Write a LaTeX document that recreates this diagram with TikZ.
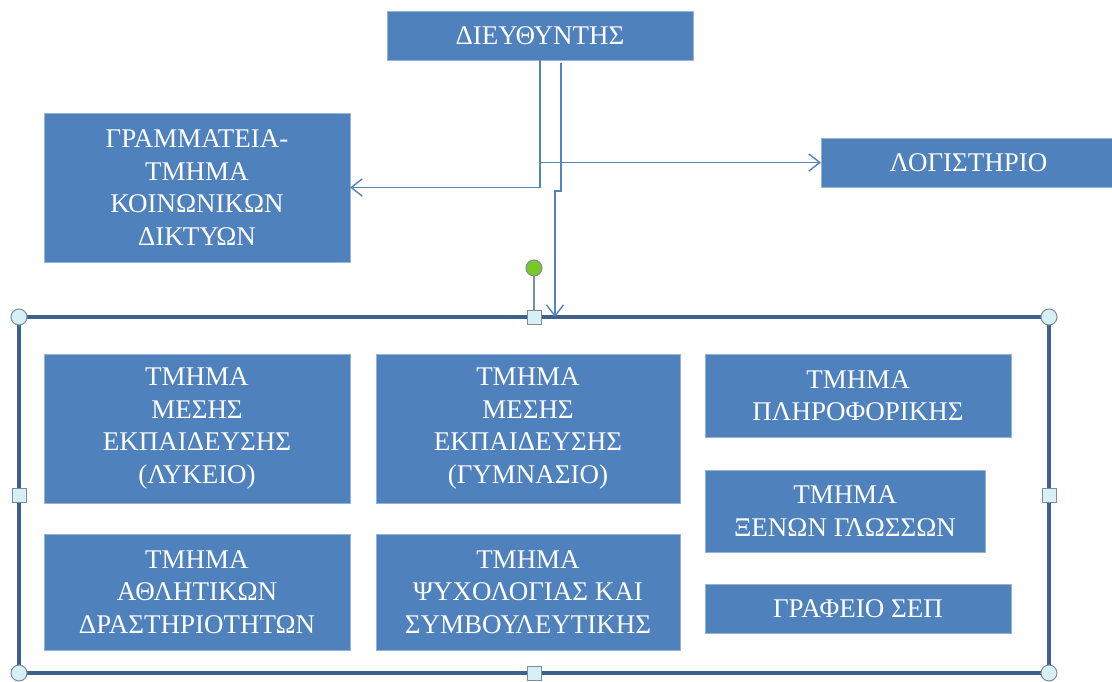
\documentclass[tikz,border=0pt]{standalone}
\usepackage{fontspec}
\setmainfont{Liberation Serif}
\usetikzlibrary{arrows.meta}
\definecolor{boxblue}{RGB}{79,129,189}
\definecolor{boxedge}{RGB}{149,179,215}
\definecolor{connblue}{RGB}{84,132,192}
\definecolor{contblue}{RGB}{62,96,140}
\definecolor{handlefill}{RGB}{215,240,246}
\definecolor{handleedge}{RGB}{125,140,155}
\definecolor{rotgreen}{RGB}{120,200,40}
\tikzset{
  box/.style={rectangle, fill=boxblue, draw=boxedge, line width=0.8pt,
    inner sep=0pt, outer sep=0pt, anchor=north west, align=center,
    text=white, font=\fontsize{27}{32.5}\selectfont},
  conn/.style={draw=connblue, line width=1.6pt, -{Straight Barb[length=11pt,width=17pt,line width=1.4pt]}},
  cont/.style={rectangle, draw=contblue, line width=3.4pt, inner sep=0pt, outer sep=0pt, anchor=north west},
  hcirc/.style={fill=handlefill, draw=handleedge, line width=1pt},
  hsq/.style={fill=handlefill, draw=handleedge, line width=1pt},
  hline/.style={draw=handleedge, line width=1.2pt},
  rot/.style={fill=rotgreen, draw=handleedge, line width=1pt}
}
\begin{document}
\begin{tikzpicture}[x=1pt,y=-1pt]
\useasboundingbox (0,0) rectangle (1112,681);
\clip (0,0) rectangle (1112,681);

% container
\node[cont, minimum width=1030pt, minimum height=356pt] (cont) at (19,317) {};

% top boxes
\node[box, minimum width=306pt, minimum height=49pt] (dir) at (387,11) {ΔΙΕΥΘΥΝΤΗΣ};
\node[box, minimum width=306pt, minimum height=149pt] (gram) at (44,113)
  {ΓΡΑΜΜΑΤΕΙΑ-\\ΤΜΗΜΑ\\ΚΟΙΝΩΝΙΚΩΝ\\ΔΙΚΤΥΩΝ};
\node[box, minimum width=295pt, minimum height=49pt] (log) at (821,138) {ΛΟΓΙΣΤΗΡΙΟ};

% inner boxes
\node[box, minimum width=306pt, minimum height=149pt] (lyk) at (44,354)
  {ΤΜΗΜΑ\\ΜΕΣΗΣ\\ΕΚΠΑΙΔΕΥΣΗΣ\\(ΛΥΚΕΙΟ)};
\node[box, minimum width=304pt, minimum height=149pt] (gym) at (376,354)
  {ΤΜΗΜΑ\\ΜΕΣΗΣ\\ΕΚΠΑΙΔΕΥΣΗΣ\\(ΓΥΜΝΑΣΙΟ)};
\node[box, minimum width=306pt, minimum height=83pt] (plir) at (705,354)
  {ΤΜΗΜΑ\\ΠΛΗΡΟΦΟΡΙΚΗΣ};
\node[box, minimum width=280pt, minimum height=82pt] (xen) at (705,470)
  {ΤΜΗΜΑ\\ΞΕΝΩΝ ΓΛΩΣΣΩΝ};
\node[box, minimum width=306pt, minimum height=49pt] (sep) at (705,584)
  {ΓΡΑΦΕΙΟ ΣΕΠ};
\node[box, minimum width=306pt, minimum height=116pt] (ath) at (44,534)
  {ΤΜΗΜΑ\\ΑΘΛΗΤΙΚΩΝ\\ΔΡΑΣΤΗΡΙΟΤΗΤΩΝ};
\node[box, minimum width=304pt, minimum height=116pt] (psy) at (376,534)
  {ΤΜΗΜΑ\\ΨΥΧΟΛΟΓΙΑΣ ΚΑΙ\\ΣΥΜΒΟΥΛΕΥΤΙΚΗΣ};

% connectors
\draw[conn] (dir.south) |- (gram.east);
\draw[conn] (dir.south) |- (log.west);
\draw[conn] ([xshift=21pt,yshift=-3pt]dir.south) -- ++(0,128) -| ([xshift=21pt]cont.north);

% selection handles
\coordinate (rh) at (534,268);
\draw[hline] (rh) -- (cont.north);
\draw[rot] (rh) circle (8pt);
\foreach \a in {north west, north east, south west, south east}
  \draw[hcirc] (cont.\a) circle (8pt);
\foreach \a in {north, south, west, east}
  \draw[hsq] ([xshift=-7pt,yshift=7pt]cont.\a) rectangle ++(14,14);
\end{tikzpicture}
\end{document}
